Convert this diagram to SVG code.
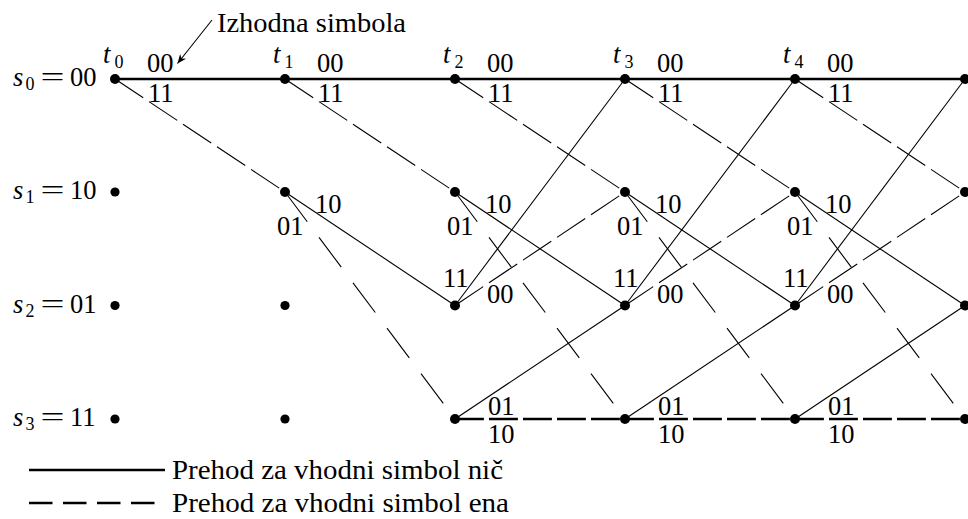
<svg xmlns="http://www.w3.org/2000/svg" width="968" height="519" viewBox="0 0 968 519">
<defs>
<style>
text{font-family:"Liberation Serif","Times New Roman",serif;font-size:26.5px;fill:#000}
.it{font-style:italic}
.sub{font-size:18px}
.thin{stroke:#000;stroke-width:1.1;fill:none}
.thick{stroke:#000;stroke-width:2.6;fill:none}
.dh{stroke-dasharray:17 3}
.ds{stroke-dasharray:16.6 3.4}
.dt{stroke-dasharray:13.1 6.9}
.dot{fill:#000}
</style>
<marker id="arr" viewBox="-10 -5 12 10" refX="0" refY="0" markerWidth="12" markerHeight="10" markerUnits="userSpaceOnUse" orient="auto">
<path d="M0,0 L-9,-3.8 L-6.5,0 L-9,3.8 Z" fill="#000"/>
</marker>
</defs>
<rect width="968" height="519" fill="#fff"/>

<g id="connectors">
<line class="thick" x1="115" y1="79" x2="285" y2="79"/>
<line class="thin ds" pathLength="100" x1="115" y1="79" x2="285" y2="192"/>
<line class="thick" x1="285" y1="79" x2="455" y2="79"/>
<line class="thin ds" pathLength="100" x1="285" y1="79" x2="455" y2="192"/>
<line class="thin" x1="285" y1="192" x2="455" y2="305.5"/>
<line class="thin dt" pathLength="100" x1="285" y1="192" x2="455" y2="419"/>
<line class="thick" x1="455" y1="79" x2="625" y2="79"/>
<line class="thin ds" pathLength="100" x1="455" y1="79" x2="625" y2="192"/>
<line class="thin" x1="455" y1="192" x2="625" y2="305.5"/>
<line class="thin dt" pathLength="100" x1="455" y1="192" x2="625" y2="419"/>
<line class="thin" x1="455" y1="305.5" x2="625" y2="79"/>
<line class="thin ds" pathLength="100" x1="455" y1="305.5" x2="625" y2="192"/>
<line class="thin" x1="455" y1="419" x2="625" y2="305.5"/>
<line class="thick dh" pathLength="100" x1="455" y1="419" x2="625" y2="419"/>
<line class="thick" x1="625" y1="79" x2="795" y2="79"/>
<line class="thin ds" pathLength="100" x1="625" y1="79" x2="795" y2="192"/>
<line class="thin" x1="625" y1="192" x2="795" y2="305.5"/>
<line class="thin dt" pathLength="100" x1="625" y1="192" x2="795" y2="419"/>
<line class="thin" x1="625" y1="305.5" x2="795" y2="79"/>
<line class="thin ds" pathLength="100" x1="625" y1="305.5" x2="795" y2="192"/>
<line class="thin" x1="625" y1="419" x2="795" y2="305.5"/>
<line class="thick dh" pathLength="100" x1="625" y1="419" x2="795" y2="419"/>
<line class="thick" x1="795" y1="79" x2="965" y2="79"/>
<line class="thin ds" pathLength="100" x1="795" y1="79" x2="965" y2="192"/>
<line class="thin" x1="795" y1="192" x2="965" y2="305.5"/>
<line class="thin dt" pathLength="100" x1="795" y1="192" x2="965" y2="419"/>
<line class="thin" x1="795" y1="305.5" x2="965" y2="79"/>
<line class="thin ds" pathLength="100" x1="795" y1="305.5" x2="965" y2="192"/>
<line class="thin" x1="795" y1="419" x2="965" y2="305.5"/>
<line class="thick dh" pathLength="100" x1="795" y1="419" x2="965" y2="419"/>
</g>

<g id="annotation">
<line class="thin" x1="212" y1="20" x2="177.5" y2="63.5" marker-end="url(#arr)"/>
<text x="217" y="32" textLength="189" lengthAdjust="spacingAndGlyphs">Izhodna simbola</text>
</g>

<g id="state-labels">
<g id="label-s0"><text x="13" y="86" class="it">s</text><text x="25.5" y="90" class="sub">0</text><text x="40.5" y="86" textLength="24" lengthAdjust="spacingAndGlyphs">=</text><text x="70" y="86">00</text></g>
<g id="label-s1"><text x="13" y="199" class="it">s</text><text x="25.5" y="203" class="sub">1</text><text x="40.5" y="199" textLength="24" lengthAdjust="spacingAndGlyphs">=</text><text x="70" y="199">10</text></g>
<g id="label-s2"><text x="13" y="312.5" class="it">s</text><text x="25.5" y="316.5" class="sub">2</text><text x="40.5" y="312.5" textLength="24" lengthAdjust="spacingAndGlyphs">=</text><text x="70" y="312.5">01</text></g>
<g id="label-s3"><text x="13" y="426" class="it">s</text><text x="25.5" y="430" class="sub">3</text><text x="40.5" y="426" textLength="24" lengthAdjust="spacingAndGlyphs">=</text><text x="70" y="426">11</text></g>
</g>

<g id="n_t0_s0"><circle class="dot" cx="115" cy="79" r="5"/><text x="103" y="63" class="it">t</text><text x="114.5" y="67.5" class="sub">0</text><text x="147" y="71.5">00</text><text x="148" y="101.5">11</text></g>
<g id="n_t0_s1"><circle class="dot" cx="115" cy="192" r="4.6"/></g>
<g id="n_t0_s2"><circle class="dot" cx="115" cy="305.5" r="4.6"/></g>
<g id="n_t0_s3"><circle class="dot" cx="115" cy="419" r="4.6"/></g>

<g id="n_t1_s0"><circle class="dot" cx="285" cy="79" r="5"/><text x="273" y="63" class="it">t</text><text x="284.5" y="67.5" class="sub">1</text><text x="317" y="71.5">00</text><text x="318" y="101.5">11</text></g>
<g id="n_t1_s1"><circle class="dot" cx="285" cy="192" r="5"/><text x="315" y="213">10</text><text x="277" y="235">01</text></g>
<g id="n_t1_s2"><circle class="dot" cx="285" cy="305.5" r="4.6"/></g>
<g id="n_t1_s3"><circle class="dot" cx="285" cy="419" r="4.6"/></g>

<g id="n_t2_s0"><circle class="dot" cx="455" cy="79" r="5"/><text x="443" y="63" class="it">t</text><text x="454.5" y="67.5" class="sub">2</text><text x="487" y="71.5">00</text><text x="488" y="101.5">11</text></g>
<g id="n_t2_s1"><circle class="dot" cx="455" cy="192" r="5"/><text x="485" y="213">10</text><text x="447" y="235">01</text></g>
<g id="n_t2_s2"><circle class="dot" cx="455" cy="305.5" r="5"/><text x="443" y="287">11</text><text x="487" y="303">00</text></g>
<g id="n_t2_s3"><circle class="dot" cx="455" cy="419" r="5"/><text x="488" y="415">01</text><text x="488" y="443">10</text></g>

<g id="n_t3_s0"><circle class="dot" cx="625" cy="79" r="5"/><text x="613" y="63" class="it">t</text><text x="624.5" y="67.5" class="sub">3</text><text x="657" y="71.5">00</text><text x="658" y="101.5">11</text></g>
<g id="n_t3_s1"><circle class="dot" cx="625" cy="192" r="5"/><text x="655" y="213">10</text><text x="617" y="235">01</text></g>
<g id="n_t3_s2"><circle class="dot" cx="625" cy="305.5" r="5"/><text x="613" y="287">11</text><text x="657" y="303">00</text></g>
<g id="n_t3_s3"><circle class="dot" cx="625" cy="419" r="5"/><text x="658" y="415">01</text><text x="658" y="443">10</text></g>

<g id="n_t4_s0"><circle class="dot" cx="795" cy="79" r="5"/><text x="783" y="63" class="it">t</text><text x="794.5" y="67.5" class="sub">4</text><text x="827" y="71.5">00</text><text x="828" y="101.5">11</text></g>
<g id="n_t4_s1"><circle class="dot" cx="795" cy="192" r="5"/><text x="825" y="213">10</text><text x="787" y="235">01</text></g>
<g id="n_t4_s2"><circle class="dot" cx="795" cy="305.5" r="5"/><text x="783" y="287">11</text><text x="827" y="303">00</text></g>
<g id="n_t4_s3"><circle class="dot" cx="795" cy="419" r="5"/><text x="828" y="415">01</text><text x="828" y="443">10</text></g>

<g id="n_t5_s0"><circle class="dot" cx="965" cy="79" r="5"/></g>
<g id="n_t5_s1"><circle class="dot" cx="965" cy="192" r="5"/></g>
<g id="n_t5_s2"><circle class="dot" cx="965" cy="305.5" r="5"/></g>
<g id="n_t5_s3"><circle class="dot" cx="965" cy="419" r="5"/></g>

<g id="legend">
<line class="thick" x1="29" y1="470" x2="165" y2="470"/>
<text x="172" y="479" textLength="331" lengthAdjust="spacingAndGlyphs">Prehod za vhodni simbol nič</text>
<line class="thick" style="stroke-dasharray:23.5 10.5" x1="29" y1="503" x2="165" y2="503"/>
<text x="172" y="512" textLength="337" lengthAdjust="spacingAndGlyphs">Prehod za vhodni simbol ena</text>
</g>
</svg>
